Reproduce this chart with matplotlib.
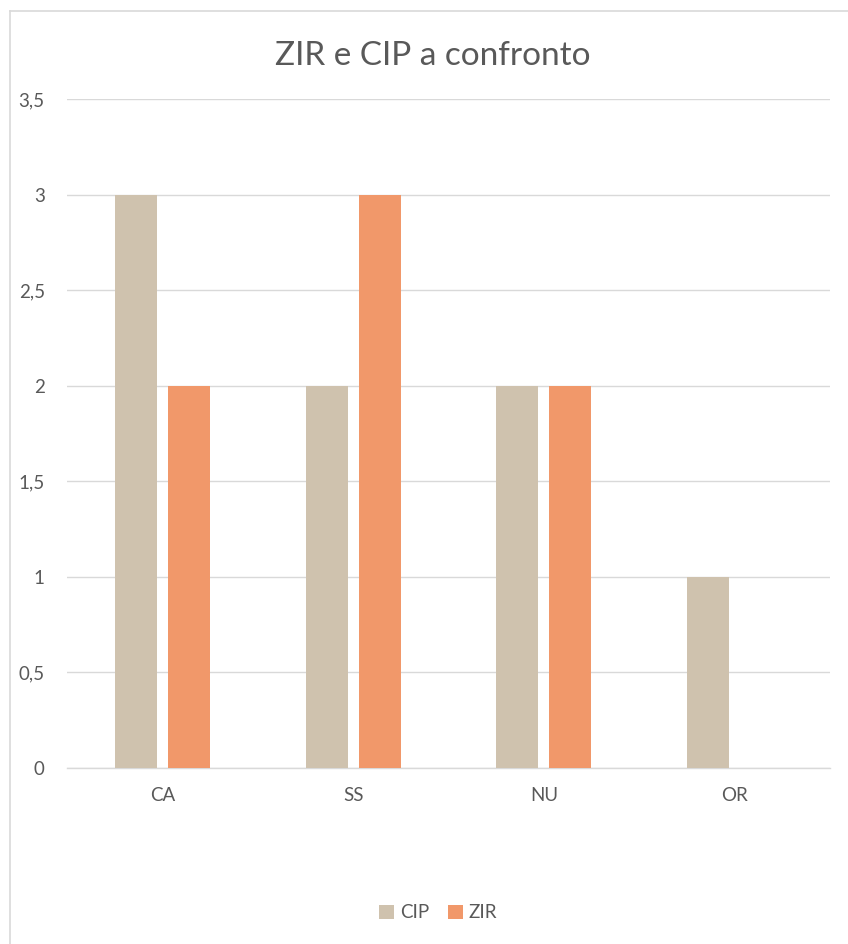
import matplotlib
matplotlib.use("Agg")
import matplotlib.pyplot as plt
import numpy as np
from matplotlib.lines import Line2D

categories = ["CA", "SS", "NU", "OR"]
cip = [3, 2, 2, 1]
zir = [2, 3, 2, 0]
yticks = [0, 0.5, 1, 1.5, 2, 2.5, 3, 3.5]
ytick_labels = ["0", "0,5", "1", "1,5", "2", "2,5", "3", "3,5"]

plt.rcParams['font.family'] = ['Lato', 'DejaVu Sans']
fig = plt.figure(figsize=(8.48, 9.44), dpi=100)
bx, by = 9.5/848, 1 - 10.5/944
fig.lines.append(Line2D([bx, 1], [by, by], transform=fig.transFigure, color="#D9D9D9", linewidth=1.2))
fig.lines.append(Line2D([bx, bx], [0, by], transform=fig.transFigure, color="#D9D9D9", linewidth=1.2))
ax = fig.add_axes([67/848, 1 - 768/944, (830 - 67)/848, (768 - 99)/944])

x = np.arange(len(categories))
w = 0.22
off = 0.139
ax.bar(x - off, cip, w, color="#CFC2AE", label="CIP", zorder=3)
ax.bar(x + off, zir, w, color="#F1986A", label="ZIR", zorder=3)

ax.set_xlim(-0.5, len(categories) - 0.5)
ax.set_ylim(0, 3.5)
ax.set_yticks(yticks)
ax.set_yticklabels(ytick_labels)
ax.set_xticks(x)
ax.set_xticklabels(categories)
ax.tick_params(axis="both", length=0, labelsize=13.5, labelcolor="#595959")
ax.tick_params(axis="y", pad=16)
ax.tick_params(axis="x", pad=14)
ax.grid(axis="y", color="#D9D9D9", linewidth=1, zorder=0)
for s in ["top", "right", "left"]:
    ax.spines[s].set_visible(False)
ax.spines["bottom"].set_color("#D9D9D9")
ax.spines["bottom"].set_linewidth(1)

fig.text(433/848, 1 - 56/944, "ZIR e CIP a confronto", ha="center", va="center",
         fontsize=24, color="#595959")
fig.legend(loc="center", bbox_to_anchor=(438/848, 1 - 913/944), ncol=2, frameon=False,
           fontsize=13.5, handlelength=0.8, handleheight=0.8, handletextpad=0.3,
           columnspacing=1.0, labelcolor="#595959")

fig.savefig("out.png", dpi=100)
